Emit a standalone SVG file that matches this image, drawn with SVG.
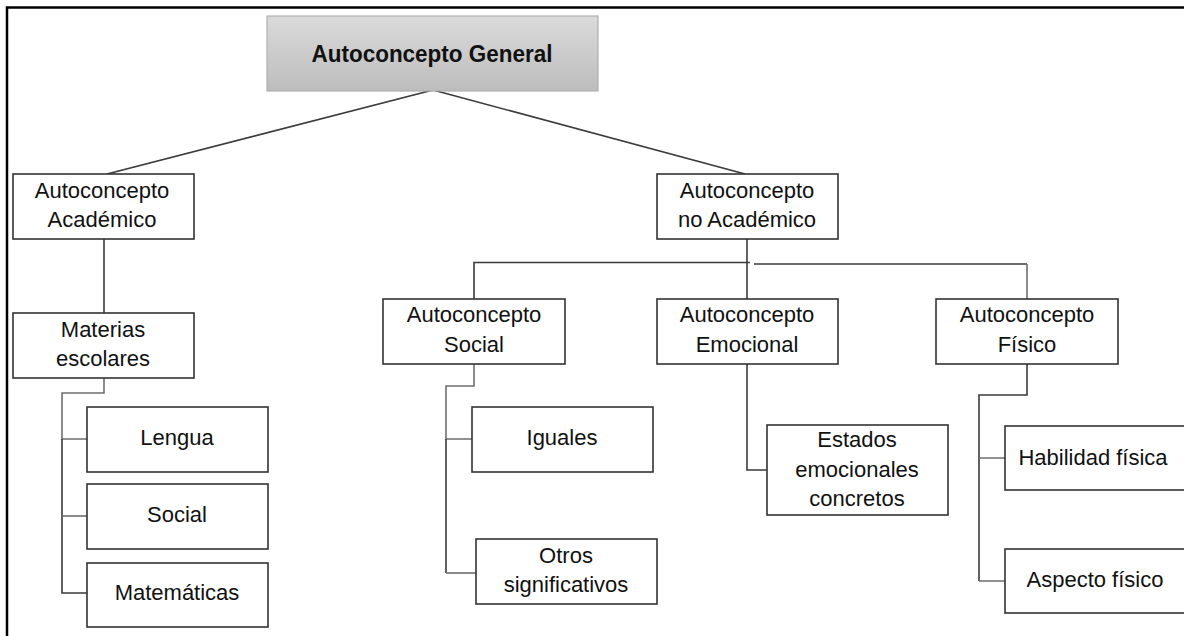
<svg xmlns="http://www.w3.org/2000/svg" width="1184" height="636" viewBox="0 0 1184 636">
  <defs>
    <linearGradient id="gray" x1="0" y1="0" x2="0" y2="1">
      <stop offset="0" stop-color="#dadada"/>
      <stop offset="1" stop-color="#bdbdbd"/>
    </linearGradient>
    <style>
      .box { fill: #ffffff; stroke: #333333; stroke-width: 1.6; }
      .top { fill: url(#gray); stroke: #b0b0b0; stroke-width: 1.2; }
      .t { font-family: "Liberation Sans", Arial, sans-serif; font-size: 22px; fill: #111111; text-anchor: middle; }
      .tb { font-family: "Liberation Sans", Arial, sans-serif; font-size: 23px; font-weight: bold; fill: #111111; text-anchor: middle; }
      .ln { fill: none; stroke: #3a3a3a; stroke-width: 1.6; }
      .lg { fill: none; stroke: #6e6e6e; stroke-width: 1.6; }
      .frame { fill: none; stroke: #000000; stroke-width: 2.5; }
    </style>
  </defs>
  <rect width="1184" height="636" fill="#ffffff"/>
  <path class="frame" d="M7,636 V7.5 H1184"/>

  <g id="connectors">
    <path class="ln" d="M433,90 L107,174"/>
    <path class="ln" d="M433,90 L745,174"/>
    <path class="ln" d="M104,239 V313"/>
    <path class="lg" d="M104,378 V393 H62 V439 H87"/>
    <path class="ln" d="M62,439 V593 H87"/>
    <path class="lg" d="M62,516 H87"/>
    <path class="ln" d="M747,239 V299"/>
    <path class="ln" d="M474,299 V262.5 H750"/>
    <path class="ln" d="M754,264 H1027"/>
    <path class="lg" d="M1027,264 V299"/>
    <path class="lg" d="M474,364 V386 H446 V439 H472"/>
    <path class="ln" d="M446,439 V573"/>
    <path class="lg" d="M446,573 H476"/>
    <path class="ln" d="M747,364 V470 H767"/>
    <path class="ln" d="M1027,364 V395 H979 V581"/>
    <path class="lg" d="M979,458 H1005 M979,581 H1005"/>
  </g>

  <g id="n-general">
    <rect class="top" x="267" y="16" width="331" height="75"/>
    <text class="tb" x="432" y="62" textLength="241" lengthAdjust="spacingAndGlyphs">Autoconcepto General</text>
  </g>
  <g id="n-academico">
    <rect class="box" x="13" y="174" width="181" height="65"/>
    <text class="t" x="102" y="198">Autoconcepto</text>
    <text class="t" x="102" y="227">Académico</text>
  </g>
  <g id="n-noacademico">
    <rect class="box" x="657" y="174" width="181" height="65"/>
    <text class="t" x="747" y="198">Autoconcepto</text>
    <text class="t" x="747" y="227">no Académico</text>
  </g>
  <g id="n-materias">
    <rect class="box" x="13" y="313" width="181" height="65"/>
    <text class="t" x="103" y="337">Materias</text>
    <text class="t" x="103" y="366">escolares</text>
  </g>
  <g id="n-lengua">
    <rect class="box" x="87" y="407" width="181" height="65"/>
    <text class="t" x="177" y="445">Lengua</text>
  </g>
  <g id="n-social-mat">
    <rect class="box" x="87" y="484" width="181" height="65"/>
    <text class="t" x="177" y="522">Social</text>
  </g>
  <g id="n-matematicas">
    <rect class="box" x="87" y="563" width="181" height="64"/>
    <text class="t" x="177" y="600">Matemáticas</text>
  </g>
  <g id="n-social">
    <rect class="box" x="383" y="299" width="182" height="65"/>
    <text class="t" x="474" y="322">Autoconcepto</text>
    <text class="t" x="474" y="352">Social</text>
  </g>
  <g id="n-emocional">
    <rect class="box" x="657" y="299" width="181" height="65"/>
    <text class="t" x="747" y="322">Autoconcepto</text>
    <text class="t" x="747" y="352">Emocional</text>
  </g>
  <g id="n-fisico">
    <rect class="box" x="936" y="299" width="182" height="65"/>
    <text class="t" x="1027" y="322">Autoconcepto</text>
    <text class="t" x="1027" y="352">Físico</text>
  </g>
  <g id="n-iguales">
    <rect class="box" x="472" y="407" width="181" height="65"/>
    <text class="t" x="562" y="445">Iguales</text>
  </g>
  <g id="n-otros">
    <rect class="box" x="476" y="539" width="181" height="65"/>
    <text class="t" x="566" y="563">Otros</text>
    <text class="t" x="566" y="592">significativos</text>
  </g>
  <g id="n-estados">
    <rect class="box" x="767" y="425" width="181" height="90"/>
    <text class="t" x="857" y="447">Estados</text>
    <text class="t" x="857" y="477">emocionales</text>
    <text class="t" x="857" y="506">concretos</text>
  </g>
  <g id="n-habilidad">
    <rect class="box" x="1005" y="426" width="190" height="64"/>
    <text class="t" x="1093" y="465">Habilidad física</text>
  </g>
  <g id="n-aspecto">
    <rect class="box" x="1005" y="549" width="190" height="64"/>
    <text class="t" x="1095" y="587">Aspecto físico</text>
  </g>
</svg>
